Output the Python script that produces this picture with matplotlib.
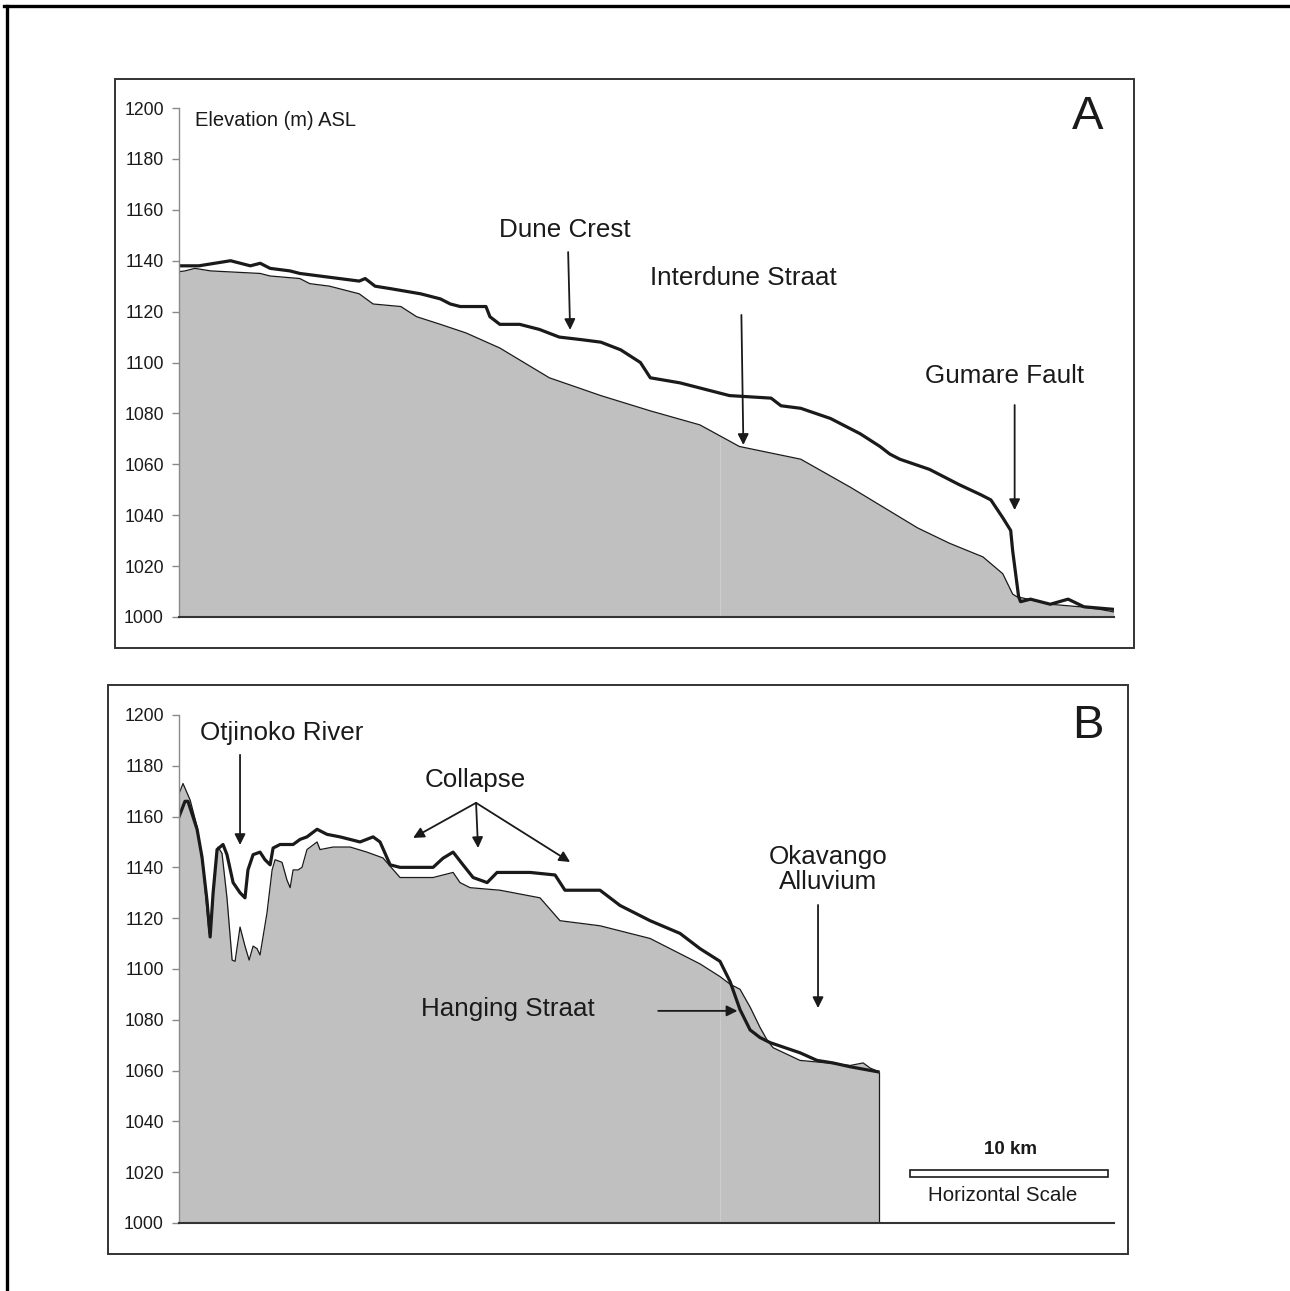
import numpy as np
import matplotlib.pyplot as plt
from matplotlib.patches import Rectangle
from matplotlib.lines import Line2D

plt.rcParams['font.family'] = ['Liberation Sans', 'DejaVu Sans']

# Profile A: distance (km) and elevation (m ASL)
a_crest_km = [0, 1.0, 1.8, 2.6, 3.6, 4.1, 4.6, 5.6, 6.1, 7.1, 8.1, 9.1, 9.4, 9.9,
              10.7, 12.2, 13.2, 13.7, 14.2, 15.5, 15.7, 16.2, 17.2, 18.2, 19.2,
              20.3, 21.3, 22.3, 23.3, 23.8, 25.3, 26.3, 27.3, 27.8, 29.9, 30.4,
              31.4, 32.9, 34.4, 35.4, 35.9, 36.4, 37.9, 38.9, 39.4, 40.5, 41.0,
              41.6, 42.0, 42.1, 42.4, 42.5, 43.0, 44.0, 44.9, 45.7, 47.2]
a_crest_m = [1138, 1138, 1139, 1140, 1138, 1139, 1137, 1136, 1135, 1134, 1133,
             1132, 1133, 1130, 1129, 1127, 1125, 1123, 1122, 1122, 1118, 1115,
             1115, 1113, 1110, 1109, 1108, 1105, 1100, 1094, 1092, 1090, 1088,
             1087, 1086, 1083, 1082, 1078, 1072, 1067, 1064, 1062, 1058, 1054,
             1052, 1048, 1046, 1039, 1034, 1026, 1008, 1006, 1007, 1005, 1007,
             1004, 1003]

a_inter_km = [0, 0.3, 0.8, 1.6, 4.1, 4.6, 6.1, 6.6, 7.6, 9.1, 9.8, 11.2, 12.0,
              13.2, 14.5, 16.2, 18.7, 21.3, 23.8, 26.3, 28.3, 31.4, 33.9, 35.6,
              37.3, 38.9, 40.6, 41.6, 42.1, 42.3, 44.0, 45.5, 46.5, 47.2]
a_inter_m = [1135.7, 1136, 1137, 1136, 1135, 1134, 1133, 1131, 1130, 1127, 1123,
             1122, 1118, 1115, 1111.6, 1105.7, 1094, 1087, 1081, 1075.5, 1067,
             1062, 1051, 1043, 1035, 1029, 1023.6, 1017, 1009, 1008, 1005, 1004,
             1003, 1002]

# Profile B
b_crest_km = [0.0, 0.3, 0.45, 0.91, 1.16, 1.41, 1.57, 1.72, 1.92, 2.22, 2.42,
              2.73, 3.08, 3.33, 3.48, 3.74, 4.09, 4.34, 4.6, 4.75, 5.1, 5.76,
              6.11, 6.46, 6.97, 7.47, 8.13, 9.14, 9.8, 10.15, 10.66, 11.16, 12.02,
              12.83, 13.33, 13.84, 14.34, 14.85, 15.56, 16.06, 17.73, 18.99,
              19.49, 21.26, 22.27, 23.79, 25.3, 26.31, 27.32, 27.83, 28.33, 28.84,
              29.34, 29.85, 31.36, 32.22, 33.03, 33.89, 35.3]
b_crest_m = [1160, 1166, 1166, 1155, 1144, 1127, 1112.6, 1130, 1147, 1149, 1145,
             1134, 1130, 1128, 1139, 1145, 1146, 1143, 1141, 1147.6, 1149, 1149,
             1151, 1152, 1155, 1153, 1152, 1150, 1152, 1150, 1141, 1140, 1140,
             1140, 1143.6, 1146, 1141, 1136, 1134, 1138, 1138, 1137, 1131, 1131,
             1125, 1119, 1114, 1108, 1103, 1095, 1084, 1076, 1073, 1071, 1067,
             1064, 1063, 1061.5, 1059.5]

b_valley_km = [0, 0.2, 0.56, 0.91, 1.21, 1.52, 1.67, 1.82, 1.97, 2.17, 2.42,
               2.68, 2.83, 3.08, 3.33, 3.54, 3.74, 3.94, 4.09, 4.44, 4.7, 4.85,
               5.2, 5.45, 5.61, 5.76, 6.01, 6.21, 6.46, 6.97, 7.12, 7.78, 8.64,
               9.49, 10.3, 11.16, 12.02, 12.83, 13.84, 14.19, 14.7, 16.21, 18.23,
               19.24, 21.26, 23.79, 26.31, 27.32, 27.83, 28.33, 28.84, 29.34,
               29.7, 30.0, 31.36, 32.73, 33.89, 34.55, 34.9, 35.35]
b_valley_m = [1169, 1173, 1166.5, 1156, 1140, 1114, 1122, 1140, 1148, 1145.5,
              1128, 1103.5, 1103, 1116.5, 1109, 1103.5, 1109, 1108, 1105.5, 1122,
              1139, 1143, 1142, 1135, 1132, 1139, 1139, 1140, 1147, 1150, 1147,
              1148, 1148, 1146, 1143.7, 1136, 1136, 1136, 1138, 1134, 1132, 1131,
              1128, 1119, 1117, 1112, 1102, 1097, 1094, 1092, 1085, 1077, 1072,
              1069, 1064, 1063, 1062, 1063, 1061, 1059.5]

y_ticks = [1000, 1020, 1040, 1060, 1080, 1100, 1120, 1140, 1160, 1180, 1200]
x_max = 47.22
seam_km = 27.3   # faint vertical seam visible in both fills
fill_grey = '#c0c0c0'
ink = '#1a1a1a'

fig = plt.figure(figsize=(12.9, 12.91), dpi=100)

# outer frame (top and left edges only) and the two panel boxes
fig.add_artist(Line2D([0.003, 1.0], [0.9953, 0.9953], color='black', lw=2.4))
fig.add_artist(Line2D([0.0058, 0.0058], [0.0, 0.9953], color='black', lw=2.4))
fig.add_artist(Rectangle((0.0891, 0.4981), 0.79, 0.4407, fill=False,
                         edgecolor='#333333', lw=1.4))
fig.add_artist(Rectangle((0.0837, 0.0287), 0.7907, 0.4407, fill=False,
                         edgecolor='#333333', lw=1.4))

ax_a = fig.add_axes([0.1388, 0.5221, 0.7248, 0.3942])
ax_b = fig.add_axes([0.1388, 0.0527, 0.7248, 0.3935])


def style(ax):
    ax.set_xlim(0, x_max)
    ax.set_ylim(1000, 1200)
    ax.set_yticks(y_ticks)
    ax.set_xticks([])
    for s in ['top', 'right']:
        ax.spines[s].set_visible(False)
    ax.spines['left'].set_color('#8a8a8a')
    ax.spines['left'].set_linewidth(1.0)
    ax.spines['bottom'].set_color('#333333')
    ax.spines['bottom'].set_linewidth(1.5)
    ax.tick_params(axis='y', direction='out', length=5, width=1.0,
                   color='#8a8a8a', labelsize=12.7, labelcolor=ink, pad=6)
    ax.patch.set_alpha(0)


def arrow(ax, start, end):
    ax.annotate('', xy=end, xytext=start,
                arrowprops=dict(arrowstyle='-|>', color=ink, lw=1.3,
                                mutation_scale=16, shrinkA=0, shrinkB=0))


def profile(ax, fill_km, fill_m, crest_km, crest_m):
    ax.fill_between(fill_km, fill_m, 1000, color=fill_grey, lw=0)
    ax.vlines(seam_km, 1000, np.interp(seam_km, fill_km, fill_m) - 1,
              color='#cdcdcd', lw=0.8)
    ax.plot(fill_km, fill_m, color=ink, lw=0.9)
    ax.plot(crest_km, crest_m, color=ink, lw=2.3)


# ---- Panel A
style(ax_a)
profile(ax_a, a_inter_km, a_inter_m, a_crest_km, a_crest_m)
ax_a.text(0.8, 1195.3, 'Elevation (m) ASL', fontsize=14.5, color=ink,
          ha='left', va='center')
ax_a.text(45.9, 1196.5, 'A', fontsize=34, color=ink, ha='center', va='center')
ax_a.text(19.5, 1152, 'Dune Crest', fontsize=18.7, color=ink,
          ha='center', va='center')
arrow(ax_a, (19.65, 1143.4), (19.75, 1112.8))
ax_a.text(28.5, 1133.2, 'Interdune Straat', fontsize=18.7, color=ink,
          ha='center', va='center')
arrow(ax_a, (28.4, 1118.7), (28.5, 1067.6))
ax_a.text(41.7, 1094.7, 'Gumare Fault', fontsize=18.7, color=ink,
          ha='center', va='center')
arrow(ax_a, (42.2, 1083.3), (42.2, 1042))

# ---- Panel B
style(ax_b)
profile(ax_b, b_valley_km, b_valley_m, b_crest_km, b_crest_m)
ax_b.vlines(b_valley_km[-1], 1000, b_valley_m[-1], color=ink, lw=0.9)
ax_b.text(45.9, 1195.7, 'B', fontsize=34, color=ink, ha='center', va='center')
ax_b.text(5.2, 1192.9, 'Otjinoko River', fontsize=18.7, color=ink,
          ha='center', va='center')
arrow(ax_b, (3.08, 1184.3), (3.08, 1148.8))
ax_b.text(14.95, 1174.4, 'Collapse', fontsize=18.7, color=ink,
          ha='center', va='center')
for tip in [(11.82, 1151.6), (15.1, 1147.6), (19.75, 1142.1)]:
    arrow(ax_b, (15.0, 1165.4), tip)
ax_b.text(32.78, 1139, 'Okavango\nAlluvium', fontsize=18.7, color=ink,
          ha='center', va='center', linespacing=1.05)
arrow(ax_b, (32.27, 1125.2), (32.27, 1084.6))
ax_b.text(16.6, 1084.3, 'Hanging Straat', fontsize=18.7, color=ink,
          ha='center', va='center')
arrow(ax_b, (24.2, 1083.5), (28.2, 1083.5))

# horizontal scale bar (10 km)
ax_b.add_patch(Rectangle((36.9, 1018.1), 10, 2.8, facecolor='white',
                         edgecolor=ink, lw=1.2))
ax_b.text(41.97, 1029.1, '10 km', fontsize=13.5, fontweight='bold', color=ink,
          ha='center', va='center')
ax_b.text(41.6, 1011, 'Horizontal Scale', fontsize=14.8, color=ink,
          ha='center', va='center')

fig.savefig('out.png', dpi=100, facecolor='white')
